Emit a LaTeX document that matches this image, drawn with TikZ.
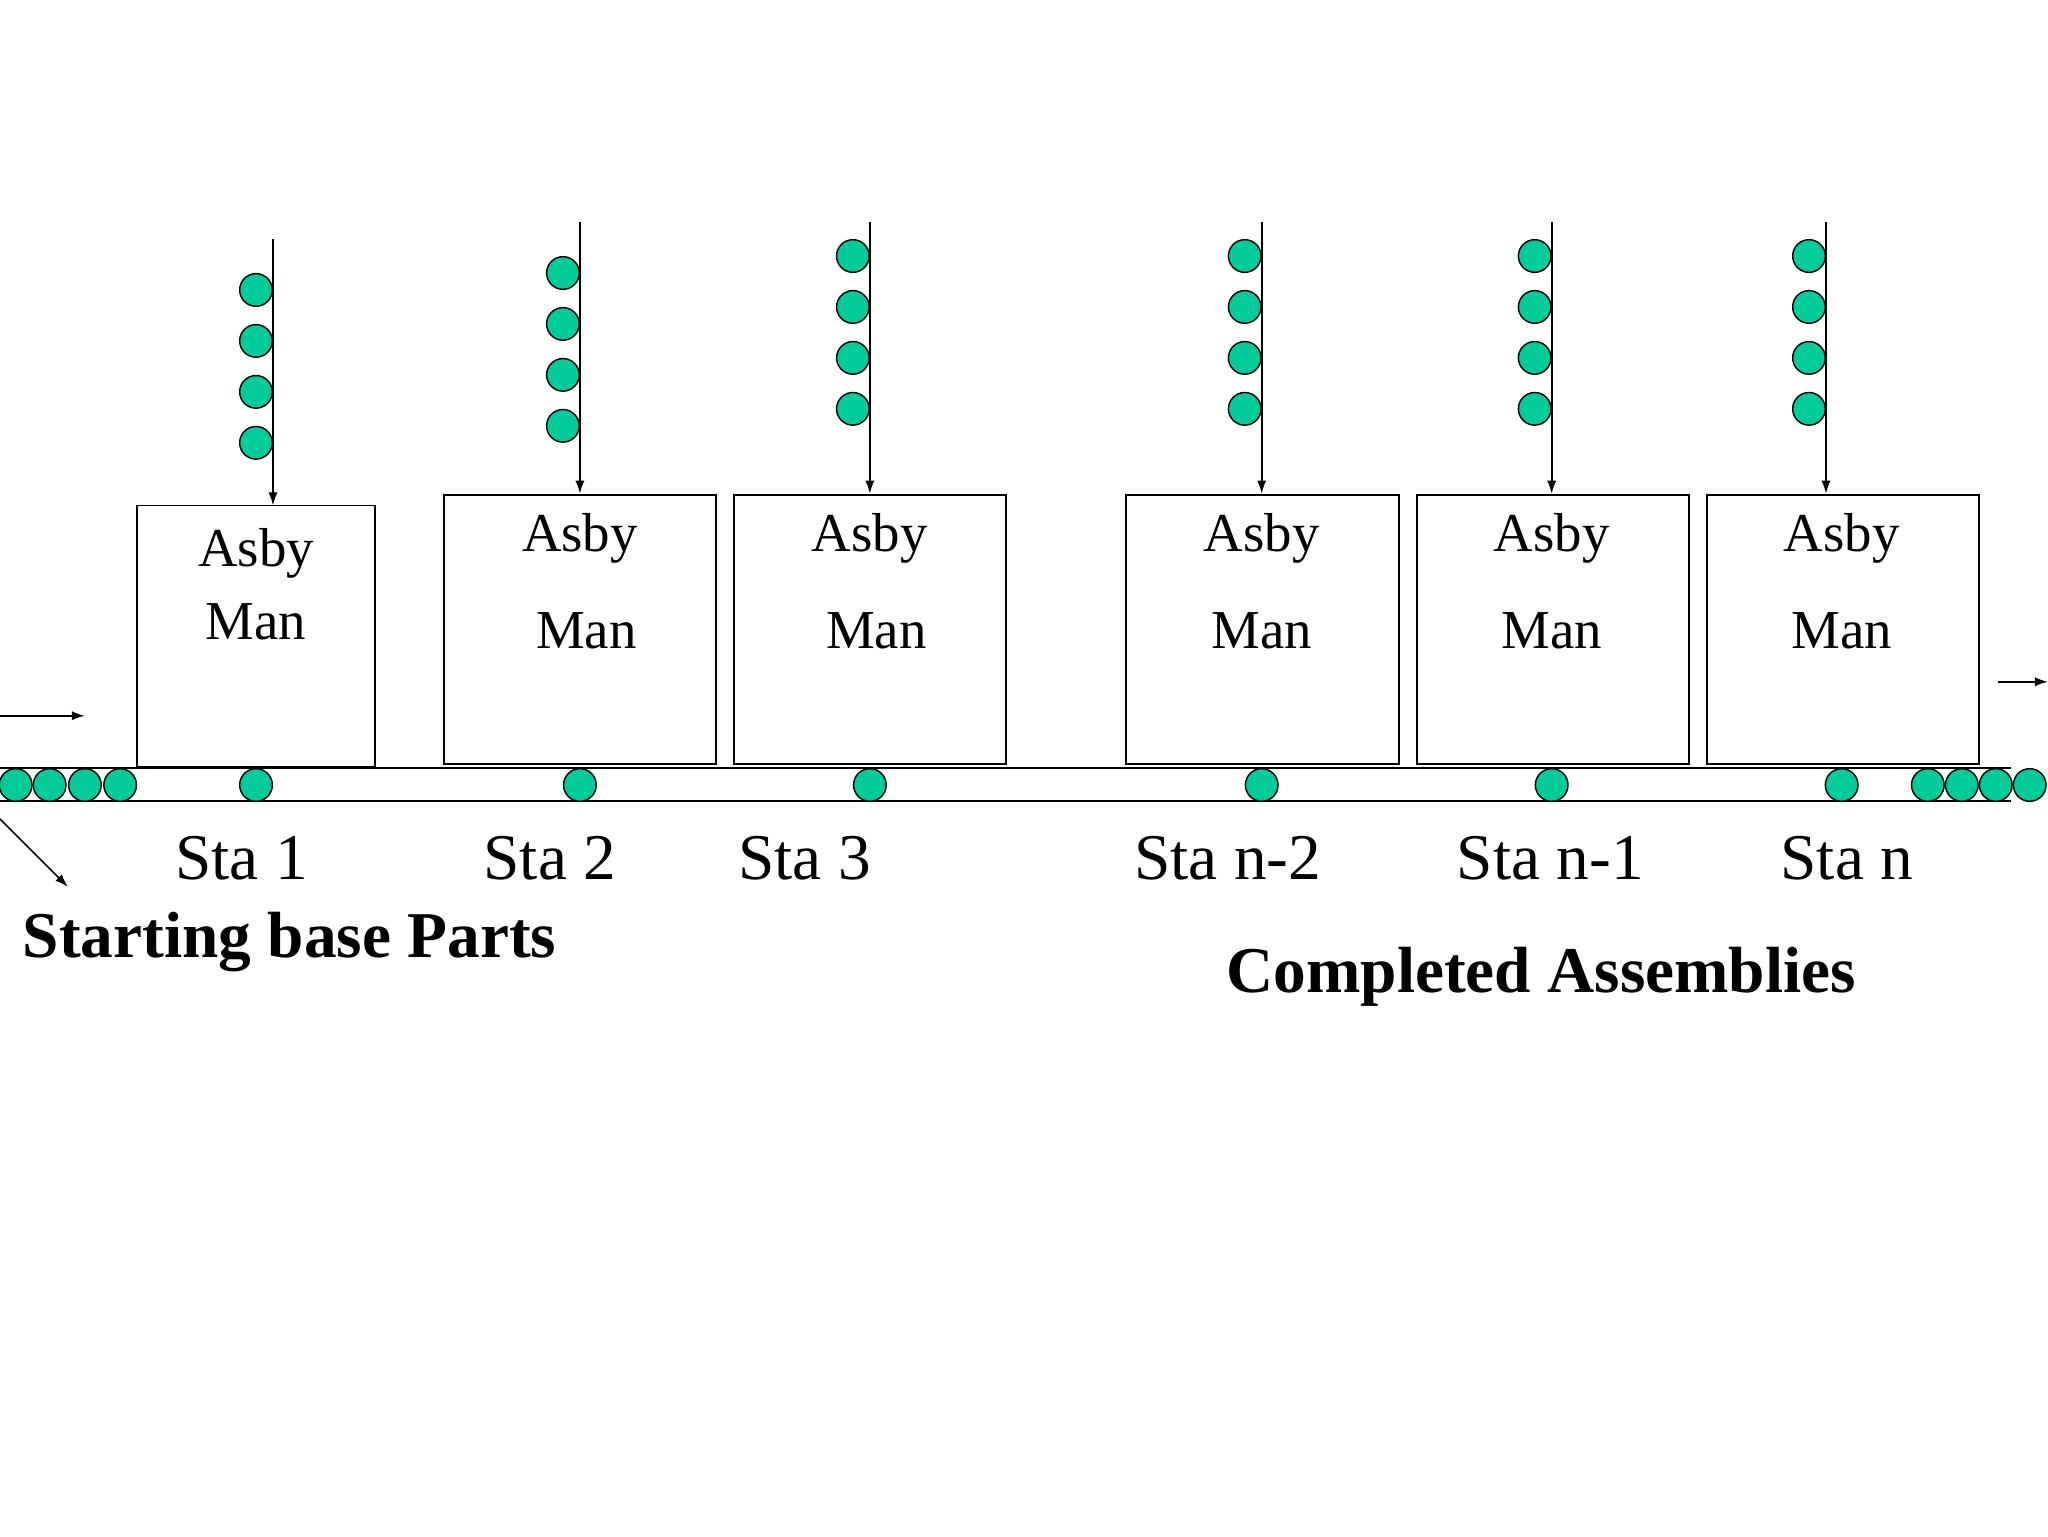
\documentclass[tikz,border=0pt]{standalone}
\usepackage{fontspec}
\setmainfont{Liberation Serif}
\begin{document}
\begin{tikzpicture}[x=1pt,y=-1pt,
  box/.style={draw,line width=1.3pt},
  part/.style={circle,draw,line width=1.1pt,fill={rgb,255:red,0;green,204;blue,153},minimum size=25pt,inner sep=0pt},
  feed/.style={-{Latex[length=10pt,width=7pt]},line width=1.3pt},
  lbl/.style={font=\fontsize{42}{42}\selectfont},
  sta/.style={font=\fontsize{50}{50}\selectfont},
  big/.style={font=\fontsize{50}{50}\selectfont\bfseries}]
\usetikzlibrary{arrows.meta}
\useasboundingbox (0,0) rectangle (1568,1176);
% conveyor
\draw[line width=1.3pt] (0,588) -- (1540,588);
\draw[line width=1.3pt] (0,613) -- (1540,613);
% boxes
\draw[box] (105,387) rectangle (287,587);
\foreach \a/\b in {340/548,562/770,862/1071,1085/1293,1307/1515}
  \draw[box] (\a,379) rectangle (\b,585);
% feed arrows
\coordinate (f1a) at (209,183); \coordinate (f1b) at (209,387);
\draw[feed] (f1a) -- (f1b);
\foreach \x in {444,666,966,1188,1398}{
  \coordinate (fa\x) at (\x,170); \coordinate (fb\x) at (\x,378);
  \draw[feed] (fa\x) -- (fb\x);}
% parts
\foreach \y in {222,261,300,339} \node[part] at (196,\y) {};
\foreach \y in {209,248,287,326} \node[part] at (431,\y) {};
\foreach \x in {653,953,1175,1385}
  \foreach \y in {196,235,274,313} \node[part] at (\x,\y) {};
\foreach \x in {12,38,65,92,196,444,666,966,1188,1410,1476,1502,1528,1554}
  \node[part] at (\x,601) {};
% texts
\node[lbl] (a1) at (196,424) {Asby};
\node[lbl] (m1) at (196,476) {Man};
\foreach \x/\m in {444/449,666/671,966/966,1188/1188,1410/1410}{
  \node[lbl] at (\x,412) {Asby};
  \node[lbl] at (\m,483) {Man};}
\node[sta] at (185,657) {Sta 1};
\node[sta] at (421,657) {Sta 2};
\node[sta] at (616,657) {Sta 3};
\node[sta] at (940,657) {Sta n-2};
\node[sta] at (1187,657) {Sta n-1};
\node[sta] at (1414,657) {Sta n};
\node[big,anchor=west] (sb) at (14,721) {Starting base Parts};
\node[big] (ca) at (1180,748) {Completed Assemblies};
% flow arrows
\coordinate (l1) at (0,548); \coordinate (l2) at (65,548);
\draw[feed] (l1) -- (l2);
\coordinate (d1) at (0,627); \coordinate (d2) at (52,679);
\draw[feed] (d1) -- (d2);
\coordinate (r1) at (1530,522); \coordinate (r2) at (1568,522);
\draw[feed] (r1) -- (r2);
\end{tikzpicture}
\end{document}
